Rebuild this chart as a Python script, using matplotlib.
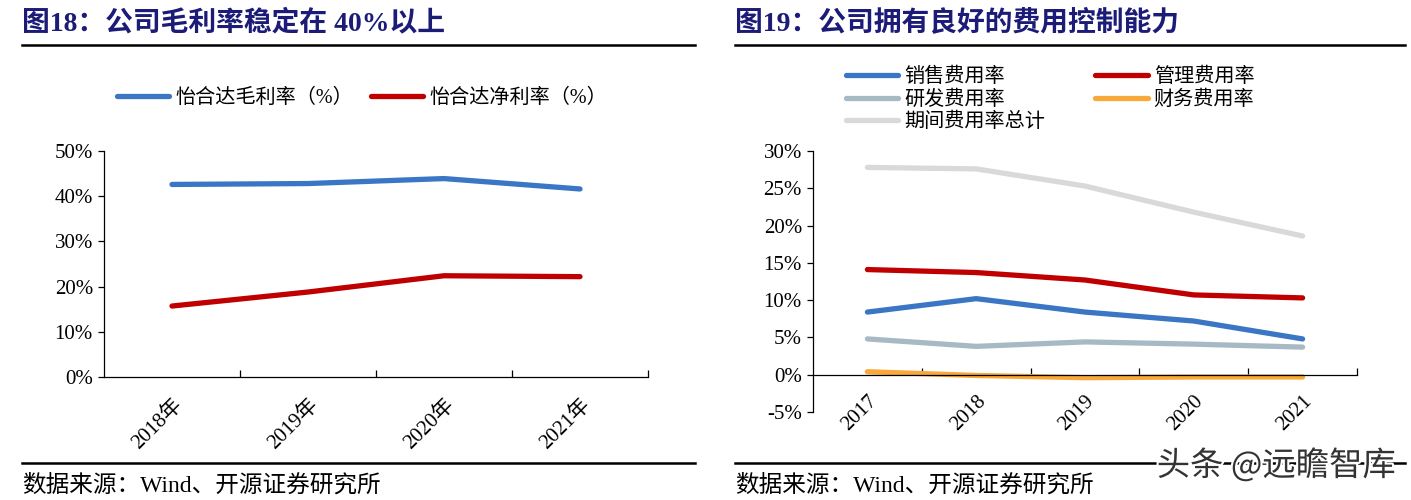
import matplotlib
matplotlib.use('Agg')
import numpy as np
import matplotlib.pyplot as plt
import matplotlib.patheffects as pe
from matplotlib.lines import Line2D

plt.rcParams['font.family'] = ['Liberation Serif', 'Noto Sans CJK SC']

# left chart data
years_l = ['2018年', '2019年', '2020年', '2021年']
gross_margin = [42.6, 42.8, 43.9, 41.6]
net_margin = [15.7, 18.8, 22.4, 22.2]

# right chart data
years_r = ['2017', '2018', '2019', '2020', '2021']
sales_rate = [8.4, 10.2, 8.4, 7.2, 4.8]
admin_rate = [14.1, 13.7, 12.7, 10.7, 10.3]
rd_rate = [4.8, 3.8, 4.4, 4.1, 3.7]
fin_rate = [0.4, -0.1, -0.4, -0.3, -0.3]
total_rate = [27.8, 27.6, 25.3, 21.8, 18.6]

W, H = 1411, 500
fig = plt.figure(figsize=(W / 100, H / 100), dpi=100)

NAVY = '#1c1c78'
BLUE = '#3a76c4'
RED = '#c00000'
STEEL = '#a6b9c5'
ORANGE = '#f9a83a'
LGRAY = '#d9d9d9'
LW = 3.8


def fx(px):
    return px / W


def fy(py):
    return 1 - py / H


def frame(x0, x1, title):
    fig.text(fx(x0), fy(23), title, fontsize=20, fontweight='bold', color=NAVY,
             va='center', ha='left')
    fig.add_artist(Line2D([fx(x0), fx(x1)], [fy(45), fy(45)], color='black', lw=1.8))
    fig.add_artist(Line2D([fx(x0), fx(x1)], [fy(463), fy(463)], color='black', lw=1.8))
    fig.text(fx(x0), fy(485), '数据来源：Wind、开源证券研究所', fontsize=17, color='black',
             va='center', ha='left')


def style_axes(ax, n, xpad):
    for s in ['top', 'right']:
        ax.spines[s].set_visible(False)
    ax.spines['left'].set_linewidth(0.9)
    ax.spines['bottom'].set_linewidth(0.9)
    ax.set_xlim(-0.5, n - 0.5)
    ax.set_xticks(np.arange(n) + 0.5, minor=True)
    ax.tick_params(axis='x', which='major', length=0, pad=xpad, labelsize=15)
    ax.tick_params(axis='x', which='minor', direction='in', length=5, width=0.9)
    ax.tick_params(axis='y', direction='out', length=4, width=0.9, labelsize=15, pad=4)
    for lab in ax.get_xticklabels():
        lab.set_rotation(45)
        lab.set_ha('right')
        lab.set_va('top')
        lab.set_rotation_mode('anchor')


legend_kw = dict(frameon=False, fontsize=14.5, handlelength=2.6, handletextpad=0.3,
                 bbox_transform=fig.transFigure, ncol=2)

# ---------- left chart ----------
frame(22, 695, '图18：公司毛利率稳定在 40%以上')
ax1 = fig.add_axes([fx(104), fy(377), fx(648 - 104), (377 - 151) / H])
x = np.arange(len(years_l))
ax1.plot(x, gross_margin, color=BLUE, lw=LW, label='怡合达毛利率（%）', solid_capstyle='round')
ax1.plot(x, net_margin, color=RED, lw=LW, label='怡合达净利率（%）', solid_capstyle='round')
ax1.set_ylim(0, 50)
ax1.set_yticks(np.arange(0, 51, 10))
ax1.set_yticklabels([f'{v}%' for v in range(0, 51, 10)])
ax1.set_xticks(x)
ax1.set_xticklabels(years_l)
style_axes(ax1, len(years_l), 13)
ax1.legend(loc='center', bbox_to_anchor=(fx(362), fy(98)), columnspacing=0.9, **legend_kw)

# ---------- right chart ----------
frame(735, 1405, '图19：公司拥有良好的费用控制能力')
ax2 = fig.add_axes([fx(813), fy(412), fx(1357 - 813), (412 - 151) / H])
x = np.arange(len(years_r))
series = [
    (sales_rate, BLUE, '销售费用率'),
    (rd_rate, STEEL, '研发费用率'),
    (total_rate, LGRAY, '期间费用率总计'),
    (admin_rate, RED, '管理费用率'),
    (fin_rate, ORANGE, '财务费用率'),
]
for vals, col, lab in series:
    ax2.plot(x, vals, color=col, lw=LW, label=lab, solid_capstyle='round')
ax2.set_ylim(-5, 30)
ax2.set_yticks(np.arange(-5, 31, 5))
ax2.set_yticklabels([f'{v}%' for v in range(-5, 31, 5)])
ax2.set_xticks(x)
ax2.set_xticklabels(years_r)
ax2.spines['bottom'].set_position(('data', 0))
style_axes(ax2, len(years_r), 12)
ax2.legend(loc='center', bbox_to_anchor=(fx(1050), fy(100)), columnspacing=2.5,
           labelspacing=0.17, **legend_kw)

# watermark
fig.text(fx(1396), fy(466), '头条 @远瞻智库', fontsize=24, color='#333333', ha='right',
         va='center', family=['Noto Sans CJK SC'],
         path_effects=[pe.withStroke(linewidth=3, foreground='white')])

fig.savefig('out.png', dpi=100)
